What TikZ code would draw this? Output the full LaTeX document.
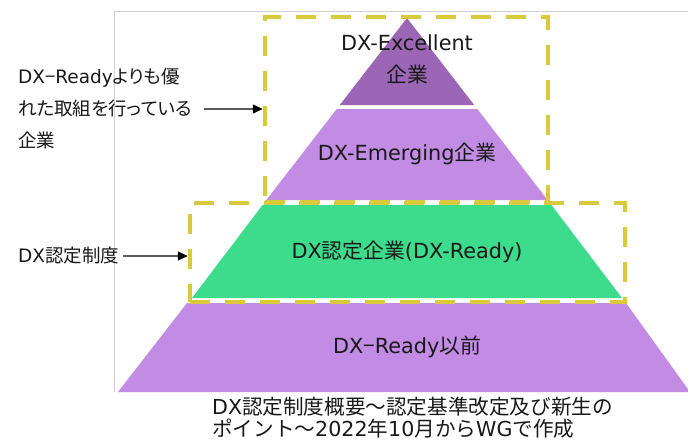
\documentclass[tikz,border=0pt]{standalone}
\usepackage{fontspec}
\setmainfont{DejaVu Sans}
\newfontfamily\jfont{Noto Sans CJK JP}
\newfontfamily\jpfont[RawFeature=+palt]{Noto Sans CJK JP}
\usetikzlibrary{arrows.meta}
\definecolor{exc}{RGB}{155,102,181}
\definecolor{lav}{RGB}{194,139,228}
\definecolor{grn}{RGB}{61,220,140}
\definecolor{dashy}{RGB}{217,201,60}
\definecolor{framegray}{RGB}{208,208,208}
\definecolor{arrgray}{RGB}{90,90,90}
\definecolor{txt}{RGB}{25,25,25}
\begin{document}
\begin{tikzpicture}[x=1pt,y=-1pt,
  tiertext/.style={font=\fontsize{20.8}{32}\selectfont, text=txt, align=center, inner sep=0pt},
  sidetext/.style={font=\fontsize{18.5}{32}\selectfont, text=txt, align=left, anchor=west, inner sep=0pt},
  captext/.style={font=\fontsize{20.6}{22}\selectfont, text=txt, align=left, anchor=west, inner sep=0pt},
  dbox/.style={draw=dashy, line width=4.5pt, dash pattern=on 20pt off 15pt, rectangle, inner sep=0pt},
  arr/.style={draw=arrgray, line width=1.3pt, -{Triangle[length=10pt,width=9pt,color=black]}},
]
\useasboundingbox (0,0) rectangle (688,444);
\clip (0,0) rectangle (688,444);
\fill[white] (0,0) rectangle (688,444);
\draw[framegray, line width=0.8pt] (114,392) -- (114,11) -- (688,11);
% pyramid tiers
\fill[exc] (407,18) -- (474.2,105) -- (339.8,105) -- cycle;
\fill[lav] (336.7,109) -- (477.3,109) -- (547.6,200) -- (266.4,200) -- cycle;
\fill[grn] (262.5,205) -- (551.5,205) -- (622,298) -- (192,298) -- cycle;
\fill[lav] (187,303) -- (626,303) -- (690,392) -- (118,392) -- cycle;
% tier labels
\node[tiertext] (t1) at (407,59) {DX-Excellent\\{\jfont 企業}};
\node[tiertext] (t2) at (407,154) {DX-Emerging{\jfont 企業}};
\node[tiertext] (t3) at (407,252) {DX{\jfont 認定企業}(DX-Ready)};
\node[tiertext] (t4) at (407,347) {DX{\jpfont −}Ready{\jfont 以前}};
% dashed boxes
\node[dbox, minimum width=283pt, minimum height=185pt] (b1) at (406.5,109.5) {};
\node[dbox, minimum width=435pt, minimum height=99pt] (b2) at (407.5,252.5) {};
% side labels
\node[sidetext] (l1) at (18,109) {DX{\jpfont −}Ready{\jpfont よりも優}\\{\jpfont れた取組を行っている}\\{\jpfont 企業}};
\node[sidetext] (l2) at (18,256) {DX{\jpfont 認定制度}};
\draw[arr, shorten <=12pt] (l1.east) -- (l1.east -| b1.west);
\draw[arr, shorten <=4pt] (l2.east) -- (l2.east -| b2.west);
% caption
\node[captext] (cap) at (212,418) {DX{\jfont 認定制度概要～認定基準改定及び新生の}\\{\jfont ポイント～}2022{\jfont 年}10{\jfont 月から}WG{\jfont で作成}};
\end{tikzpicture}
\end{document}
